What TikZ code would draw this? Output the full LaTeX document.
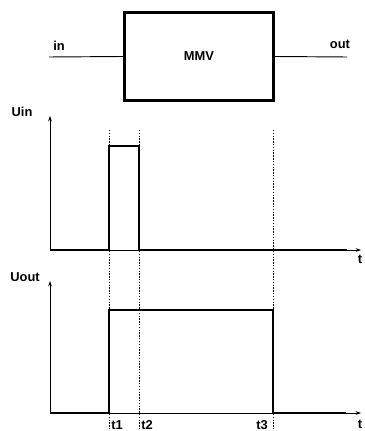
\documentclass[tikz,border=0pt]{standalone}
\usepackage{fontspec}
\setmainfont{Liberation Sans}
\usetikzlibrary{positioning,arrows.meta,calc}
\begin{document}
\begin{tikzpicture}[x=0.03cm, y=-0.03cm,
            block/.style={rectangle, draw, line width=2.5pt, minimum width=4.45cm, minimum height=2.62cm, font=\fontsize{11}{13}\selectfont\bfseries},
            tag/.style={font=\fontsize{11}{13}\selectfont\bfseries, inner sep=1pt},
            wire/.style={line width=0.8pt},
            axis/.style={-{Stealth[length=1.6mm, width=1.1mm]}, line width=0.6pt},
            signal/.style={line width=2.5pt},
            guide/.style={dash pattern=on 1.2pt off 1.2pt, line width=0.5pt}
        ]
            \useasboundingbox (0,0) rectangle (364,431);
            % block
            \node[block] (mmv) at (199,56.5) {MMV};
            \coordinate (inend) at (49,57);
            \coordinate (outend) at (347,57);
            \draw[wire] (inend) -- (mmv.west);
            \draw[wire] (mmv.east) -- (outend);
            \node[tag] (inlbl) at (59,46) {in};
            \node[tag] (outlbl) at (340,44) {out};
            % input graph
            \coordinate (o1) at (50,250);
            \draw[axis] (o1) -- (50,116);
            \draw[axis] (o1) -- (361,250);
            \node[tag] (uin) at (22,112) {Uin};
            \node[tag] (tin) at (360,259) {t};
            \draw[signal] (o1) -- (109,250) -- (109,146) -- (139,146) -- (139,250) -- (347,250);
            % output graph
            \coordinate (o2) at (50,413);
            \draw[axis] (o2) -- (50,281);
            \draw[axis] (o2) -- (361,413);
            \node[tag] (uout) at (25,277) {Uout};
            \node[tag] (tout) at (360,424) {t};
            \draw[signal] (o2) -- (109,413) -- (109,310) -- (273,310) -- (273,413) -- (346,413);
            % time marks
            \foreach \x/\name/\off in {109/t1/8, 139/t2/8, 273/t3/-11} {
                \draw[guide] (\x,130) -- (\x,431);
                \node[tag] (\name) at (\x+\off,425) {\name};
            }
        \end{tikzpicture}
\end{document}
